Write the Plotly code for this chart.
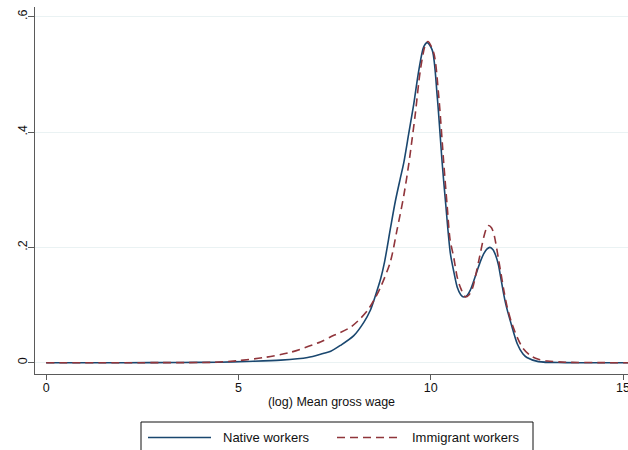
import plotly.graph_objects as go

# ---- data ----
native_x = [0, 2, 3.5, 4.5, 5.2, 6.1, 6.8, 7.2, 7.4, 7.65, 8.0, 8.26, 8.43, 8.57, 8.7,
            8.8, 8.95, 9.08, 9.21, 9.3, 9.43, 9.56, 9.69, 9.82, 9.91, 10.04, 10.17,
            10.3, 10.39, 10.51, 10.6, 10.69, 10.78, 10.86, 10.95, 11.03, 11.12, 11.21,
            11.3, 11.38, 11.46, 11.54, 11.62, 11.69, 11.76, 11.82, 11.9, 11.95, 12.08,
            12.25, 12.4, 12.5, 12.8, 13.5, 15.2]
native_y = [0, 0, 0.0005, 0.001, 0.0023, 0.0045, 0.009, 0.016, 0.02, 0.03, 0.047, 0.07,
            0.091, 0.118, 0.146, 0.175, 0.232, 0.28, 0.32, 0.347, 0.398, 0.449, 0.507,
            0.548, 0.555, 0.542, 0.461, 0.345, 0.275, 0.19, 0.158, 0.131, 0.118, 0.114,
            0.117, 0.126, 0.142, 0.16, 0.177, 0.189, 0.197, 0.2, 0.196, 0.186, 0.17,
            0.148, 0.118, 0.102, 0.07, 0.033, 0.015, 0.009, 0.002, 0.0003, 0]

immig_x = [0, 3, 4.36, 4.97, 5.66, 6.35, 7.13, 7.4, 7.6, 7.9, 8.1, 8.35, 8.52, 8.69,
           8.95, 9.12, 9.3, 9.43, 9.52, 9.6, 9.73, 9.86, 9.93, 10.08, 10.21, 10.34,
           10.43, 10.5, 10.6, 10.69, 10.77, 10.9, 11.0, 11.08, 11.25, 11.38, 11.45,
           11.51, 11.58, 11.64, 11.77, 11.9, 11.99, 12.1, 12.25, 12.4, 12.6, 12.8,
           13.03, 13.5, 14.5, 15.2]
immig_y = [0, 0.0002, 0.0008, 0.0035, 0.009, 0.018, 0.036, 0.045, 0.051, 0.061, 0.072,
           0.09, 0.108, 0.13, 0.175, 0.229, 0.29, 0.345, 0.39, 0.432, 0.507, 0.551,
           0.557, 0.537, 0.461, 0.345, 0.27, 0.215, 0.182, 0.148, 0.131, 0.114, 0.118,
           0.128, 0.177, 0.218, 0.233, 0.238, 0.234, 0.224, 0.177, 0.126, 0.096, 0.07,
           0.044, 0.025, 0.012, 0.006, 0.003, 0.001, 0.0002, 0]

x_ticks = [0, 5, 10, 15]
x_tick_labels = ["0", "5", "10", "15"]
y_ticks = [0, 0.2, 0.4, 0.6]
y_tick_labels = ["0", ".2", ".4", ".6"]
series_names = ["Native workers", "Immigrant workers"]

NAVY = "#1a476f"
MAROON = "#90353b"
FONT = "Liberation Sans, Arial, Helvetica, sans-serif"

W, H = 628, 450
ML, MR, MT, MB = 35, 0, 7, 76
PW, PH = W - ML - MR, H - MT - MB


def px(xp):
    return (xp - ML) / PW


def py(yp):
    return (H - MB - yp) / PH


fig = go.Figure()
fig.add_trace(go.Scatter(x=native_x, y=native_y, mode="lines", name=series_names[0],
                         line=dict(color=NAVY, width=1.6, shape="spline", smoothing=0.8)))
fig.add_trace(go.Scatter(x=immig_x, y=immig_y, mode="lines", name=series_names[1],
                         line=dict(color=MAROON, width=1.6, dash="8px,5px",
                                   shape="spline", smoothing=0.8)))

axis_col = "#5a5a5a"
grid_col = "#eaf2f3"

fig.update_layout(
    width=W, height=H,
    margin=dict(l=ML, r=MR, t=MT, b=MB, autoexpand=False),
    paper_bgcolor="white", plot_bgcolor="white",
    showlegend=False,
    font=dict(family=FONT, size=12.5, color="#111"),
    xaxis=dict(range=[-0.29, 15.13], tickvals=x_ticks, ticktext=x_tick_labels,
               showgrid=False, zeroline=False, showline=True, linecolor=axis_col,
               linewidth=1.2, ticks="outside", ticklen=5, tickcolor=axis_col,
               tickfont=dict(size=12.5), ticklabeloverflow="allow",
               ticklabelstandoff=-3,
               title=dict(text="(log) Mean gross wage", font=dict(size=12.5), standoff=3)),
    yaxis=dict(range=[-0.0195, 0.6168], tickvals=y_ticks, ticktext=y_tick_labels,
               showgrid=True, gridcolor=grid_col, gridwidth=1, zeroline=False,
               showline=True, linecolor=axis_col, linewidth=1.2,
               ticks="outside", ticklen=6, tickcolor=axis_col, tickangle=-90,
               ticklabelstandoff=-4, tickfont=dict(size=12.5)),
)

# legend drawn as a Stata-style box below the plot
shapes = [
    dict(type="rect", xref="paper", yref="paper", x0=px(141), x1=px(533),
         y0=py(470), y1=py(422), line=dict(color="#111", width=1), fillcolor="white"),
    dict(type="line", xref="paper", yref="paper", x0=px(148), x1=px(211),
         y0=py(437.5), y1=py(437.5), line=dict(color=NAVY, width=1.6)),
    dict(type="line", xref="paper", yref="paper", x0=px(337), x1=px(400),
         y0=py(437.5), y1=py(437.5), line=dict(color=MAROON, width=1.6, dash="8px,5px")),
]
fig.update_layout(shapes=shapes)
fig.add_annotation(x=px(221), y=py(437.5), xref="paper", yref="paper", text=series_names[0],
                   showarrow=False, xanchor="left", yanchor="middle",
                   font=dict(size=13, color="#111"))
fig.add_annotation(x=px(410), y=py(437.5), xref="paper", yref="paper", text=series_names[1],
                   showarrow=False, xanchor="left", yanchor="middle",
                   font=dict(size=13, color="#111"))

fig.write_html("out.html")
